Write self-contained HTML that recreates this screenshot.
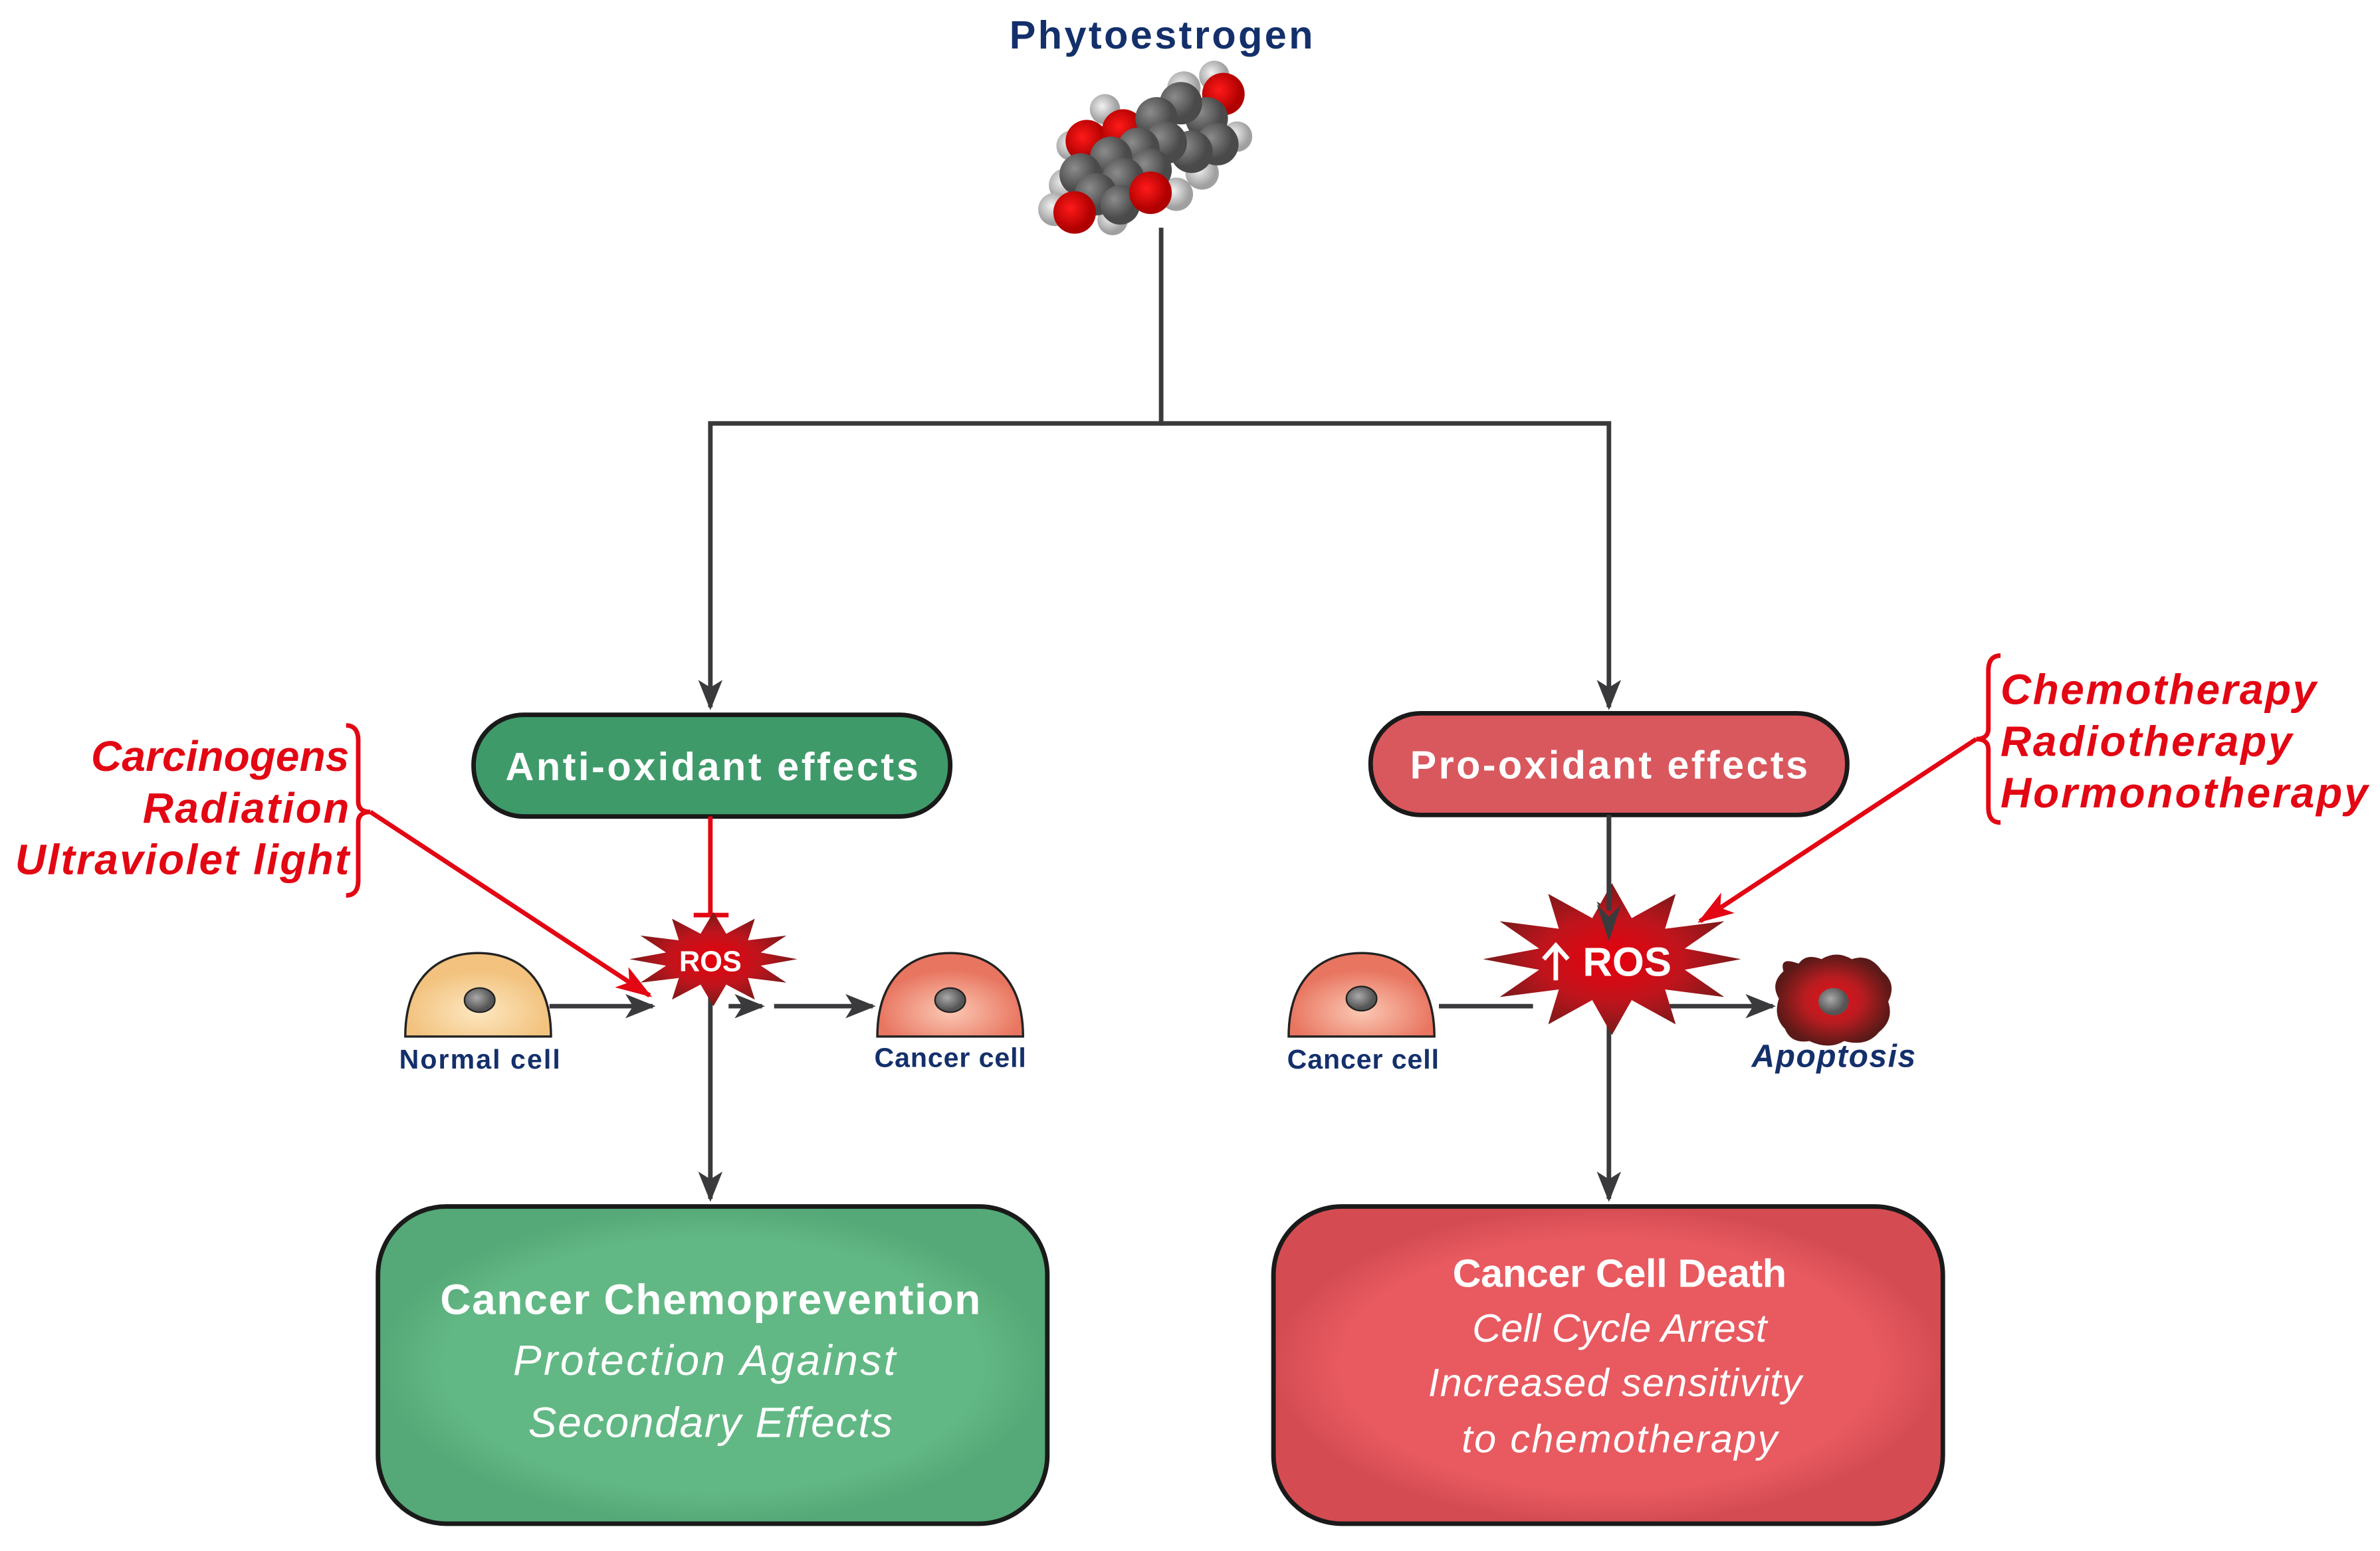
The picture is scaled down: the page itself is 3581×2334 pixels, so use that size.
<!DOCTYPE html>
<html><head><meta charset="utf-8"><style>html,body{margin:0;padding:0;background:#fff}svg{display:block}</style></head>
<body>
<svg width="3581" height="2334" viewBox="0 0 1568 1022" xmlns="http://www.w3.org/2000/svg" font-family="Liberation Sans, sans-serif">
<defs>
<marker id="ah" viewBox="0 0 20 16" refX="18" refY="8" markerWidth="20" markerHeight="16" markerUnits="userSpaceOnUse" orient="auto"><path d="M0,0 L20,8 L0,16 L5,8 Z" fill="#3a3a3c"/></marker>
<marker id="ar" viewBox="0 0 24 16" refX="22" refY="8" markerWidth="24" markerHeight="16" markerUnits="userSpaceOnUse" orient="auto"><path d="M0,0 L24,8 L0,16 L6,8 Z" fill="#e30613"/></marker>
<radialGradient id="rs"><stop offset="0" stop-color="#e8000c"/><stop offset="0.55" stop-color="#c0141c"/><stop offset="1" stop-color="#7a1a1a"/></radialGradient>
<radialGradient id="ap"><stop offset="0" stop-color="#e8101a"/><stop offset="0.5" stop-color="#b81c20"/><stop offset="1" stop-color="#5a1a18"/></radialGradient>
<radialGradient id="nc" cx="0.4" cy="0.4"><stop offset="0" stop-color="#aaa"/><stop offset="1" stop-color="#555"/></radialGradient>
<radialGradient id="ncell" cy="0.7"><stop offset="0" stop-color="#fde7c0"/><stop offset="1" stop-color="#f2c27e"/></radialGradient>
<radialGradient id="ccell" cy="0.7"><stop offset="0" stop-color="#fbc9b4"/><stop offset="1" stop-color="#e87560"/></radialGradient>
<radialGradient id="gc" cx="0.35" cy="0.35"><stop offset="0" stop-color="#8c8c8c"/><stop offset="1" stop-color="#4a4a4a"/></radialGradient>
<radialGradient id="rc" cx="0.4" cy="0.4"><stop offset="0" stop-color="#ff1a1a"/><stop offset="1" stop-color="#b00000"/></radialGradient>
<radialGradient id="hc" cx="0.4" cy="0.4"><stop offset="0" stop-color="#f2f2f2"/><stop offset="1" stop-color="#a0a0a0"/></radialGradient>
<radialGradient id="gb"><stop offset="0.8" stop-color="#62b884"/><stop offset="1" stop-color="#55a877"/></radialGradient>
<radialGradient id="rb"><stop offset="0.8" stop-color="#e85a60"/><stop offset="1" stop-color="#d44c52"/></radialGradient>
<polygon id="star" points="85,0 48,7 74,25 35,20 42,43 13,27 0,50 -13,27 -42,43 -35,20 -74,25 -48,7 -85,0 -48,-7 -74,-25 -35,-20 -42,-43 -13,-27 0,-50 13,-27 42,-43 35,-20 74,-25 48,-7" fill="url(#rs)"/>
<path id="cell" d="M-48,25 C-48,-12 -28,-30 0,-30 C28,-30 48,-12 48,25 Z" stroke="#222" stroke-width="1.5"/>
</defs>

<text x="765" y="32" text-anchor="middle" font-size="26" font-weight="bold" fill="#14306b" textLength="200">Phytoestrogen</text>

<!-- molecule -->
<g>
<circle cx="702" cy="122" r="11" fill="url(#hc)"/><circle cx="695" cy="138" r="11" fill="url(#hc)"/><circle cx="706" cy="96" r="10" fill="url(#hc)"/>
<circle cx="733" cy="145" r="10" fill="url(#hc)"/><circle cx="775" cy="128" r="11" fill="url(#hc)"/><circle cx="792" cy="114" r="11" fill="url(#hc)"/>
<circle cx="815" cy="90" r="10" fill="url(#hc)"/><circle cx="780" cy="58" r="11" fill="url(#hc)"/><circle cx="800" cy="50" r="10" fill="url(#hc)"/><circle cx="728" cy="72" r="10" fill="url(#hc)"/>
<circle cx="716" cy="93" r="14" fill="url(#rc)"/><circle cx="740" cy="86" r="14" fill="url(#rc)"/>
<circle cx="806" cy="62" r="14" fill="url(#rc)"/>
<circle cx="795" cy="78" r="14" fill="url(#gc)"/><circle cx="802" cy="95" r="14" fill="url(#gc)"/>
<circle cx="778" cy="68" r="14" fill="url(#gc)"/><circle cx="762" cy="78" r="14" fill="url(#gc)"/>
<circle cx="785" cy="100" r="14" fill="url(#gc)"/><circle cx="768" cy="94" r="14" fill="url(#gc)"/>
<circle cx="750" cy="98" r="14" fill="url(#gc)"/><circle cx="732" cy="104" r="14" fill="url(#gc)"/>
<circle cx="712" cy="115" r="14" fill="url(#gc)"/><circle cx="758" cy="112" r="14" fill="url(#gc)"/>
<circle cx="740" cy="118" r="14" fill="url(#gc)"/><circle cx="722" cy="128" r="14" fill="url(#gc)"/>
<circle cx="738" cy="135" r="13" fill="url(#gc)"/>
<circle cx="708" cy="140" r="14" fill="url(#rc)"/>
<circle cx="758" cy="127" r="14" fill="url(#rc)"/>
</g>

<!-- tree connectors -->
<g stroke="#3a3a3c" stroke-width="3" fill="none">
<polyline points="765,150 765,279 468,279 468,466" marker-end="url(#ah)"/>
<polyline points="765,279 1060,279 1060,466" marker-end="url(#ah)"/>
</g>

<!-- boxes -->
<rect x="312" y="471" width="314" height="67" rx="33" fill="#3f9a6a" stroke="#1a1a1a" stroke-width="3"/>
<text x="469" y="514" text-anchor="middle" font-size="26" font-weight="bold" fill="#fff" textLength="272">Anti-oxidant effects</text>
<rect x="903" y="470" width="314" height="67" rx="33" fill="#d9585e" stroke="#1a1a1a" stroke-width="3"/>
<text x="1060" y="513" text-anchor="middle" font-size="26" font-weight="bold" fill="#fff" textLength="262">Pro-oxidant effects</text>

<!-- left pathway -->
<line x1="468" y1="538" x2="468" y2="603" stroke="#e30613" stroke-width="3"/>
<line x1="457" y1="603" x2="480" y2="603" stroke="#e30613" stroke-width="3"/>
<g stroke="#3a3a3c" stroke-width="3">
<line x1="362" y1="663" x2="430" y2="663" marker-end="url(#ah)"/>
<line x1="480" y1="663" x2="502" y2="663" marker-end="url(#ah)"/>
<line x1="510" y1="663" x2="575" y2="663" marker-end="url(#ah)"/>
<line x1="468" y1="645" x2="468" y2="790" marker-end="url(#ah)"/>
</g>
<use href="#star" transform="translate(470,632) scale(0.65,0.62)"/>
<text x="468" y="640" text-anchor="middle" font-size="19" font-weight="bold" fill="#fff">ROS</text>
<use href="#cell" fill="url(#ncell)" transform="translate(315,658)"/>
<ellipse cx="316" cy="659" rx="10" ry="8" fill="url(#nc)" stroke="#222"/>
<use href="#cell" fill="url(#ccell)" transform="translate(626,658)"/>
<ellipse cx="626" cy="659" rx="10" ry="8" fill="url(#nc)" stroke="#222"/>
<text x="316" y="704" text-anchor="middle" font-size="18" font-weight="bold" fill="#14306b" textLength="106">Normal cell</text>
<text x="626" y="703" text-anchor="middle" font-size="18" font-weight="bold" fill="#14306b" textLength="100">Cancer cell</text>

<g font-size="28" font-weight="bold" font-style="italic" fill="#e30613" text-anchor="end">
<text x="230" y="508" textLength="170">Carcinogens</text>
<text x="230" y="542" textLength="136">Radiation</text>
<text x="230" y="576" textLength="220">Ultraviolet light</text>
</g>
<path d="M228,478 Q236,478 236,488 L236,528 Q236,535 244,535 Q236,535 236,542 L236,580 Q236,590 228,590" fill="none" stroke="#e30613" stroke-width="3"/>
<line x1="244" y1="535" x2="428" y2="656" stroke="#e30613" stroke-width="3" marker-end="url(#ar)"/>

<!-- right pathway -->
<g stroke="#3a3a3c" stroke-width="3">
<line x1="1060" y1="537" x2="1060" y2="612" marker-end="url(#ah)"/>
<line x1="948" y1="663" x2="1010" y2="663"/>
<line x1="1100" y1="663" x2="1168" y2="663" marker-end="url(#ah)"/>
<line x1="1060" y1="660" x2="1060" y2="790" marker-end="url(#ah)"/>
</g>
<use href="#star" transform="translate(1062,632)"/>
<line x1="1060" y1="537" x2="1060" y2="600" stroke="#3a3a3c" stroke-width="3"/>
<path d="M1052,596 L1060,620 L1068,596 L1060,604 Z" fill="#3a3a3c"/>
<text x="1072" y="643" text-anchor="middle" font-size="27" font-weight="bold" fill="#fff">ROS</text>
<path d="M1025,646 L1025,624 M1017,632 L1025,623 L1033,632" stroke="#fff" stroke-width="3" fill="none"/>
<use href="#cell" fill="url(#ccell)" transform="translate(897,658)"/>
<ellipse cx="897" cy="658" rx="10" ry="8" fill="url(#nc)" stroke="#222"/>
<text x="898" y="704" text-anchor="middle" font-size="18" font-weight="bold" fill="#14306b" textLength="100">Cancer cell</text>
<path d="M1175,640 Q1172,630 1185,635 Q1190,628 1200,632 Q1210,626 1220,632 Q1232,628 1240,640 Q1250,648 1244,660 Q1248,672 1238,680 Q1230,690 1215,686 Q1205,692 1192,686 Q1180,688 1176,678 Q1168,670 1172,658 Q1166,648 1175,640 Z" fill="url(#ap)"/>
<ellipse cx="1208" cy="660" rx="10" ry="9" fill="url(#nc)"/>
<text x="1208" y="703" text-anchor="middle" font-size="21" font-weight="bold" font-style="italic" fill="#14306b" textLength="108">Apoptosis</text>

<g font-size="28" font-weight="bold" font-style="italic" fill="#e30613">
<text x="1318" y="464" textLength="208">Chemotherapy</text>
<text x="1318" y="498" textLength="192">Radiotherapy</text>
<text x="1318" y="532" textLength="242">Hormonotherapy</text>
</g>
<path d="M1318,432 Q1310,432 1310,442 L1310,480 Q1310,487 1302,487 Q1310,487 1310,494 L1310,532 Q1310,542 1318,542" fill="none" stroke="#e30613" stroke-width="3"/>
<line x1="1302" y1="487" x2="1120" y2="607" stroke="#e30613" stroke-width="3" marker-end="url(#ar)"/>

<!-- bottom boxes -->
<rect x="249" y="795" width="441" height="209" rx="45" fill="url(#gb)" stroke="#1a1a1a" stroke-width="3"/>
<text x="468" y="866" text-anchor="middle" font-size="28" font-weight="bold" fill="#fff" textLength="356">Cancer Chemoprevention</text>
<text x="464" y="906" text-anchor="middle" font-size="28" font-style="italic" fill="#fff" textLength="252">Protection Against</text>
<text x="468" y="947" text-anchor="middle" font-size="28" font-style="italic" fill="#fff" textLength="240">Secondary Effects</text>

<rect x="839" y="795" width="441" height="209" rx="45" fill="url(#rb)" stroke="#1a1a1a" stroke-width="3"/>
<text x="1067" y="848" text-anchor="middle" font-size="26" font-weight="bold" fill="#fff" textLength="220">Cancer Cell Death</text>
<text x="1067" y="884" text-anchor="middle" font-size="26" font-style="italic" fill="#fff" textLength="194">Cell Cycle Arrest</text>
<text x="1064" y="920" text-anchor="middle" font-size="26" font-style="italic" fill="#fff" textLength="246">Increased sensitivity</text>
<text x="1067" y="957" text-anchor="middle" font-size="26" font-style="italic" fill="#fff" textLength="208">to chemotherapy</text>
</svg>
</body></html>
